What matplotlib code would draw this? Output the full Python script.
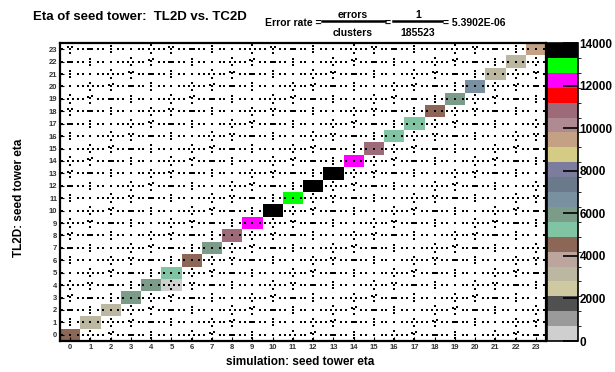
import numpy as np
import matplotlib
matplotlib.use("Agg")
import matplotlib.pyplot as plt
from matplotlib.colors import ListedColormap, BoundaryNorm
from matplotlib.lines import Line2D

plt.rcParams['font.family'] = ['Liberation Sans', 'DejaVu Sans']
plt.rcParams['font.weight'] = 'bold'

# tower index bins (both axes)
towers = list(range(24))

# diagonal contents: TL2D tower == TC2D tower
diag_counts = [4500, 3100, 3000, 5900, 5700, 5300, 4400, 5800,
               10800, 12300, 13500, 12900, 13600, 13800, 12200, 10700,
               5200, 5100, 4300, 5800, 6600, 3000, 3100, 9400]

# the single mismatched cluster (simulation eta, TL2D eta, count)
offdiag_cells = [(5, 4, 1)]

n_errors = 1
n_clusters = 185523

# ROOT-like 20 step palette, 0..14000
palette = ['#cfcfcf', '#9a9a9a', '#505050', '#cfc9a2', '#bcb7a1',
           '#bba59d', '#8c6656', '#80c4a4', '#7a9c88', '#7890a0',
           '#6a7a8a', '#7c7c9e', '#d4cc84', '#c4a084', '#b08a92',
           '#9c6a78', '#ff0000', '#ff00ff', '#00ff00', '#000000']
zmax = 14000

W, H = 615, 372
def fx(x):
    return x / W
def fy(y):
    return 1 - y / H

counts = np.zeros((len(towers), len(towers)))
for k, c in enumerate(diag_counts):
    counts[k, k] = c
for sx, ty, c in offdiag_cells:
    counts[ty, sx] = c
masked = np.ma.masked_equal(counts, 0)

cmap = ListedColormap(palette)
levels = np.linspace(0, zmax, len(palette) + 1)
norm = BoundaryNorm(levels, cmap.N)

fig = plt.figure(figsize=(W / 100, H / 100), dpi=100)
ax = fig.add_axes([fx(60), fy(341), (546 - 60) / W, (341 - 43) / H])

edges = np.arange(len(towers) + 1) - 0.5
mesh = ax.pcolormesh(edges, edges, masked, cmap=cmap, norm=norm)

# scatter texture drawn in every cell
patterns = [
    [(0.5, 0.5)],
    [(0.4, 0.5), (0.5, 0.5), (0.6, 0.5)],
    [(0.5, 0.8), (0.38, 0.5), (0.62, 0.5), (0.5, 0.2)],
    [(0.5, 0.75), (0.5, 0.5), (0.5, 0.25)],
    [(0.4, 0.65), (0.5, 0.55), (0.6, 0.7), (0.5, 0.2)],
]
dx, dy = [], []
for j in towers:
    for i in towers:
        pat = patterns[(i * 7 + j * 3) % len(patterns)]
        for ox, oy in pat + [(0.12, 0.5), (0.88, 0.5)]:
            dx.append(i - 0.5 + ox)
            dy.append(j - 0.5 + oy)
ax.scatter(dx, dy, s=2.3, marker='s', color='black', linewidths=0, zorder=3)

ax.set_xlim(-0.5, 23.5)
ax.set_ylim(-0.5, 23.5)
ax.set_xticks(towers)
ax.set_yticks(towers)
ax.set_xticklabels([str(t) for t in towers], fontsize=5.5, color='#333333')
ax.set_yticklabels([str(t) for t in towers], fontsize=5.5, color='#333333')
ax.tick_params(direction='in', length=3, width=0.8, pad=2)
for sp in ax.spines.values():
    sp.set_linewidth(1.6)

fig.text(fx(300), fy(362), 'simulation: seed tower eta', ha='center',
         va='center', fontsize=8.5, fontweight='bold')
fig.text(fx(19), fy(198), 'TL2D: seed tower eta', ha='center', va='center',
         rotation=90, fontsize=8.5, fontweight='bold')

# colour scale
cax = fig.add_axes([fx(547), fy(341), (578 - 547) / W, (341 - 43) / H])
cb = fig.colorbar(mesh, cax=cax, ticks=np.arange(0, zmax + 1, 2000))
cb.outline.set_linewidth(1.2)
cax.tick_params(direction='in', length=11, width=1.2, labelsize=8.5, pad=1)
cax.set_yticklabels([str(v) for v in range(0, zmax + 1, 2000)])

# title and error rate
fig.text(fx(33), fy(17), 'Eta of seed tower:  TL2D vs. TC2D', ha='left',
         va='center', fontsize=9.5, fontweight='bold')
fs = 7.5
fig.text(fx(265), fy(23), 'Error rate =', ha='left', va='center', fontsize=fs)
fig.text(fx(353), fy(15), 'errors', ha='center', va='center', fontsize=fs)
fig.text(fx(353), fy(33), 'clusters', ha='center', va='center', fontsize=fs)
fig.text(fx(388), fy(23), '=', ha='center', va='center', fontsize=fs)
fig.text(fx(418), fy(15), str(n_errors), ha='center', va='center', fontsize=fs)
fig.text(fx(418), fy(33), str(n_clusters), ha='center', va='center', fontsize=fs)
fig.text(fx(443), fy(23), '= %.4E' % (n_errors / n_clusters), ha='left',
         va='center', fontsize=fs)
for x0, x1 in [(322, 385), (393, 442)]:
    fig.add_artist(Line2D([fx(x0), fx(x1)], [fy(21), fy(21)],
                          transform=fig.transFigure, color='black', lw=1.8))

fig.savefig('out.png', dpi=100)
